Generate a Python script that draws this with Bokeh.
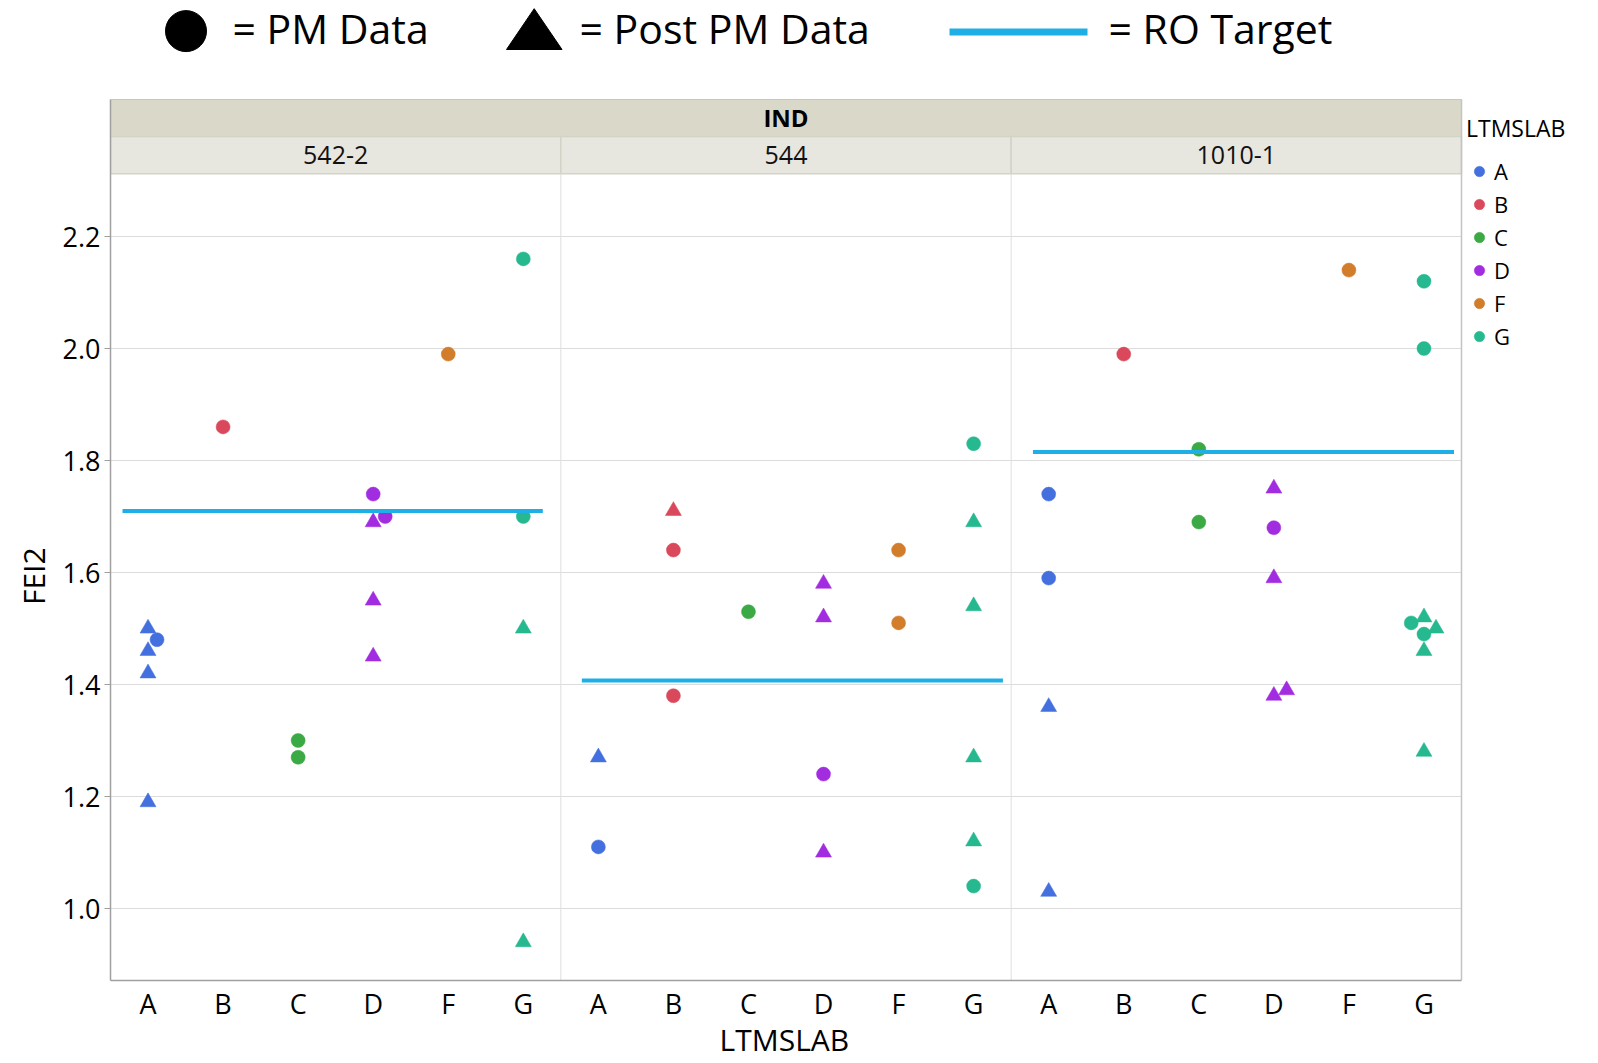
from bokeh.plotting import figure
from bokeh.models import (Range1d, FixedTicker, PrintfTickFormatter, Legend, LegendItem,
                          ColumnDataSource)
from bokeh.embed import file_html
from bokeh.resources import INLINE
from bokeh.core.properties import value

# ---------------- data ----------------
panels = ["542-2", "544", "1010-1"]
labs = ["A", "B", "C", "D", "F", "G"]
y_ticks = [1.0, 1.2, 1.4, 1.6, 1.8, 2.0, 2.2]

# PM data (circles)
pm_panel = ["542-2"] * 9 + ["544"] * 9 + ["1010-1"] * 11
pm_lab = ["A", "B", "C", "C", "D", "D", "F", "G", "G",
          "A", "B", "B", "C", "D", "F", "F", "G", "G",
          "A", "A", "B", "C", "C", "D", "F", "G", "G", "G", "G"]
pm_fei2 = [1.48, 1.86, 1.30, 1.27, 1.74, 1.70, 1.99, 2.16, 1.70,
           1.11, 1.64, 1.38, 1.53, 1.24, 1.64, 1.51, 1.83, 1.04,
           1.74, 1.59, 1.99, 1.82, 1.69, 1.68, 2.14, 2.12, 2.00, 1.51, 1.49]

# Post PM data (triangles)
post_panel = ["542-2"] * 9 + ["544"] * 9 + ["1010-1"] * 10
post_lab = ["A", "A", "A", "A", "D", "D", "D", "G", "G",
            "A", "B", "D", "D", "D", "G", "G", "G", "G",
            "A", "A", "D", "D", "D", "D", "G", "G", "G", "G"]
post_fei2 = [1.50, 1.46, 1.42, 1.19, 1.69, 1.55, 1.45, 1.50, 0.94,
             1.27, 1.71, 1.58, 1.52, 1.10, 1.69, 1.54, 1.27, 1.12,
             1.36, 1.03, 1.75, 1.59, 1.38, 1.39, 1.52, 1.50, 1.46, 1.28]

# RO target per panel
ro_target = [1.71, 1.407, 1.815]

key_texts = ["= PM Data", "= Post PM Data", "= RO Target"]

# ---------------- layout / style ----------------
FONT = "Open Sans"
lab_colors = {"A": "#4470DF", "B": "#D9485B", "C": "#3BA944",
              "D": "#A22CE0", "F": "#D27D2B", "G": "#26B88E"}
ro_color = "#1EAFE6"
# horizontal jitter (category units) to separate overlapping markers
pm_jitter = {0: 0.12, 5: 0.16, 27: -0.17}
post_jitter = {23: 0.17, 25: 0.16}
# horizontal extent of each RO target line (category units, relative to panel)
ro_x0 = [-0.34, -0.22, -0.21]
ro_x1 = [5.26, 5.39, 5.40]

n_lab = len(labs)
n_x = len(panels) * n_lab

# canvas geometry (pixels)
W, H = 1598, 1063
FL, FB = 110, 980          # frame left / bottom (frame runs to the top and right edges)
DATA_R = 1461              # right edge of the data area
Y14_PX, PX_PER_UNIT = 684.0, 560.0   # pixel row of FEI2 = 1.4 and pixels per FEI2 unit
NBSP = "\u00a0"


def val_at(Y):
    return 1.4 + (Y14_PX - Y) / PX_PER_UNIT


y_bottom, y_top = val_at(FB), val_at(0)
y_data_top, y_band_mid, y_ind_top = val_at(173.3), val_at(136.0), val_at(99.0)
x_per_px = n_x / (DATA_R - FL)
x_end = -0.5 + (W - FL) * x_per_px


def px_to_x(X):
    return -0.5 + (X - FL) * x_per_px


def xpos(panel, lab, dx=0.0):
    return panels.index(panel) * n_lab + labs.index(lab) + dx


p = figure(width=W, height=H,
           x_range=Range1d(-0.5, x_end), y_range=Range1d(y_bottom, y_top),
           toolbar_location=None, output_backend="svg",
           min_border_left=FL, min_border_right=0, min_border_top=0, min_border_bottom=H - FB)
p.background_fill_color = "white"
p.border_fill_color = "white"
p.outline_line_color = None

# ---------------- key above the plot ----------------
p.scatter(x=[px_to_x(185.5)], y=[val_at(30.6)], size=41, marker="circle",
          fill_color="black", line_color="black")
p.patch(x=[px_to_x(506), px_to_x(561.5), px_to_x(533.7)],
        y=[val_at(49), val_at(49), val_at(8.2)], fill_color="black", line_color="black")
p.segment(x0=[px_to_x(949)], x1=[px_to_x(1087)], y0=[val_at(31.6)], y1=[val_at(31.6)],
          line_color=ro_color, line_width=7)
p.text(x=[px_to_x(232), px_to_x(579), px_to_x(1108)], y=[val_at(27.7)] * 3, text=key_texts,
       text_font=value(FONT), text_font_size="41px", text_color="black",
       text_baseline="alphabetic", text_align="left")

# ---------------- header bands ----------------
p.quad(left=[-0.5], right=[n_x - 0.5], bottom=[y_band_mid], top=[y_ind_top],
       fill_color="#DAD8C9", line_color="#C9C7B9", line_width=1)
p.quad(left=[i * n_lab - 0.5 for i in range(len(panels))],
       right=[(i + 1) * n_lab - 0.5 for i in range(len(panels))],
       bottom=[y_data_top] * len(panels), top=[y_band_mid] * len(panels),
       fill_color="#E7E6DF", line_color="#D4D3C8", line_width=1.5)
p.text(x=[(n_x - 1) / 2], y=[val_at(116.5)], text=["IND"],
       text_font=value(FONT), text_font_size="24px", text_font_style="bold",
       text_color="black", text_align="center", text_baseline="middle")
p.text(x=[i * n_lab + (n_lab - 1) / 2 for i in range(len(panels))],
       y=[val_at(154.8)] * len(panels), text=panels,
       text_font=value(FONT), text_font_size="25px",
       text_color="#111111", text_align="center", text_baseline="middle")

# grid lines (data area only) and panel dividers
p.xgrid.visible = False
p.ygrid.visible = False
p.segment(x0=[-0.5] * len(y_ticks), x1=[n_x - 0.5] * len(y_ticks), y0=y_ticks, y1=y_ticks,
          line_color="#DCDCDC", line_width=1)
p.segment(x0=[i * n_lab - 0.5 for i in range(1, len(panels))],
          x1=[i * n_lab - 0.5 for i in range(1, len(panels))],
          y0=[y_bottom] * (len(panels) - 1), y1=[y_data_top] * (len(panels) - 1),
          line_color="#DEDEDE", line_width=1)
# right border of the data area
p.segment(x0=[n_x - 0.5], x1=[n_x - 0.5], y0=[y_bottom], y1=[y_ind_top],
          line_color="#C4C4C4", line_width=1.5)

# ---------------- data marks ----------------
post_src = ColumnDataSource(dict(
    x=[xpos(pn, lb, post_jitter.get(i, 0.0)) for i, (pn, lb) in enumerate(zip(post_panel, post_lab))],
    y=post_fei2,
    c=[lab_colors[lb] for lb in post_lab]))
p.scatter("x", "y", source=post_src, marker="triangle", size=16,
          fill_color="c", line_color="c", line_width=0.5)

legend_items = []
for lb in labs:
    idx = [i for i, l in enumerate(pm_lab) if l == lb]
    src = ColumnDataSource(dict(
        x=[xpos(pm_panel[i], lb, pm_jitter.get(i, 0.0)) for i in idx],
        y=[pm_fei2[i] for i in idx]))
    r = p.scatter("x", "y", source=src, marker="circle", size=14,
                  fill_color=lab_colors[lb], line_color=lab_colors[lb], line_width=0.5)
    legend_items.append(LegendItem(label=lb, renderers=[r]))

p.segment(x0=[i * n_lab + ro_x0[i] for i in range(len(panels))],
          x1=[i * n_lab + ro_x1[i] for i in range(len(panels))],
          y0=ro_target, y1=ro_target, line_color=ro_color, line_width=4)

# ---------------- axes ----------------
# the frame also holds the key and the lab legend, so the axis titles are padded
# with no-break spaces to centre them on the data area
p.xaxis.ticker = FixedTicker(ticks=list(range(n_x)))
p.xaxis.major_label_overrides = {i: labs[i % n_lab] for i in range(n_x)}
p.xaxis.axis_label = "LTMSLAB" + NBSP * 18
p.xaxis.bounds = (-0.5, n_x - 0.5)
p.yaxis.ticker = FixedTicker(ticks=y_ticks)
p.yaxis.formatter = PrintfTickFormatter(format="%.1f")
p.yaxis.axis_label = "FEI2" + NBSP * 22
p.yaxis.bounds = (y_bottom, y_ind_top)
for ax in (p.xaxis, p.yaxis):
    ax.axis_line_color = "#A0A0A0"
    ax.axis_line_width = 1.5
    ax.major_tick_line_color = "#A0A0A0"
    ax.minor_tick_line_color = None
    ax.major_label_text_font = FONT
    ax.major_label_text_color = "black"
    ax.axis_label_text_font = FONT
    ax.axis_label_text_font_style = "normal"
    ax.axis_label_text_color = "black"
p.xaxis.major_tick_out = 0
p.xaxis.major_tick_in = 0
p.xaxis.major_label_text_font_size = "27px"
p.xaxis.major_label_standoff = 4
p.xaxis.axis_label_text_font_size = "30px"
p.xaxis.axis_label_standoff = -6
p.yaxis.major_tick_out = 6
p.yaxis.major_tick_in = 0
p.yaxis.major_label_text_font_size = "27px"
p.yaxis.major_label_standoff = 4
p.yaxis.axis_label_text_font_size = "30px"
p.yaxis.axis_label_standoff = 6

# ---------------- lab legend (right of the panels) ----------------
legend = Legend(items=legend_items, title="LTMSLAB", location=(1356, 628.6),
                orientation="vertical", margin=0, padding=6, spacing=3,
                glyph_height=26, glyph_width=26, label_standoff=2, title_standoff=12,
                label_height=26,
                border_line_color=None, background_fill_alpha=0)
legend.title_text_font = FONT
legend.title_text_font_size = "23px"
legend.title_text_font_style = "normal"
legend.title_text_color = "black"
legend.label_text_font = FONT
legend.label_text_font_size = "22px"
legend.label_text_color = "black"
p.add_layout(legend)

open("out.html", "w").write(file_html(p, INLINE))
